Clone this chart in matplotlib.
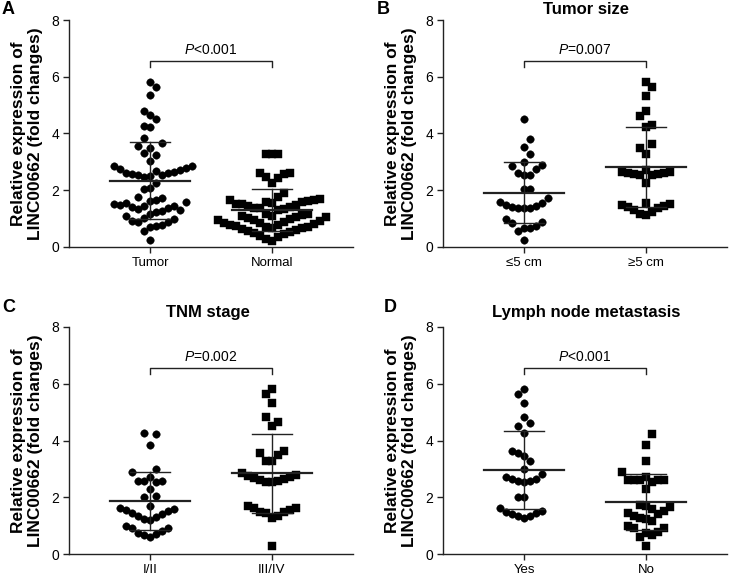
import numpy as np
import matplotlib
matplotlib.use("Agg")
import matplotlib.pyplot as plt

plt.rcParams.update({
    "font.family": ["Liberation Sans", "DejaVu Sans"],
    "mathtext.fontset": "custom",
    "mathtext.rm": "Liberation Sans",
    "mathtext.it": "Liberation Sans:italic",
    "axes.linewidth": 1.0,
})

# ---- data ----
cats_a = ["Tumor", "Normal"]
tumor_a = [5.83, 5.65, 5.36, 4.80, 4.65, 4.51, 4.26, 4.22, 3.83, 3.65, 3.56, 3.48,
           3.30, 3.24, 3.03, 2.87,
           2.48, 2.50, 2.52, 2.55, 2.57, 2.60, 2.62, 2.65, 2.68, 2.71, 2.74, 2.78, 2.84,
           2.24, 2.07, 2.03,
           1.24, 1.28, 1.31, 1.34, 1.37, 1.40, 1.43, 1.46, 1.49, 1.52, 1.55, 1.58,
           1.62, 1.67, 1.72, 1.77,
           1.16, 1.10, 1.02, 0.98, 0.93, 0.89, 0.89, 0.78, 0.74, 0.72, 0.58, 0.25]
normal_a = [3.28, 3.28, 3.28, 2.60, 2.60, 2.57, 2.46, 2.42, 2.27, 1.89, 1.75,
            1.30, 1.33, 1.36, 1.39, 1.42, 1.45, 1.47, 1.50, 1.52, 1.55, 1.57, 1.60,
            1.62, 1.64, 1.66, 1.68,
            0.80, 0.83, 0.86, 0.88, 0.91, 0.94, 0.96, 0.99, 1.01, 1.04, 1.06, 1.08,
            1.10, 1.12, 1.15, 1.18,
            0.22, 0.28, 0.34, 0.40, 0.45, 0.50, 0.54, 0.58, 0.61, 0.64, 0.66, 0.68,
            0.70, 0.72, 0.74, 0.76, 0.78]

cats_b = ["\u22645 cm", "\u22655 cm"]
small_b = [4.51, 3.81, 3.54, 3.28, 3.01, 2.89, 2.85, 2.74, 2.60, 2.54, 2.54, 2.03,
           2.03, 1.72, 1.60, 1.54, 1.48, 1.46, 1.40, 1.36, 1.36, 1.36, 0.98, 0.89,
           0.86, 0.74, 0.68, 0.68, 0.56, 0.25]
large_b = [5.83, 5.63, 5.33, 4.80, 4.63, 4.30, 4.22, 3.63, 3.48, 3.27,
           2.52, 2.54, 2.56, 2.58, 2.60, 2.62, 2.64, 2.66, 2.70, 2.24,
           1.12, 1.18, 1.24, 1.30, 1.36, 1.40, 1.44, 1.48, 1.52, 1.56]

cats_c = ["I/II", "III/IV"]
early_c = [4.25, 4.23, 3.84, 2.98, 2.90, 2.73, 2.58, 2.58, 2.58, 2.55, 2.28, 2.04,
           2.02, 1.69, 1.20, 1.25, 1.30, 1.35, 1.40, 1.45, 1.50, 1.54, 1.57, 1.61,
           0.99, 0.90, 0.90, 0.80, 0.73, 0.70, 0.67, 0.59]
late_c = [5.81, 5.64, 5.33, 4.82, 4.64, 4.52, 3.63, 3.55, 3.49, 3.28, 3.28,
          2.52, 2.55, 2.58, 2.61, 2.64, 2.67, 2.70, 2.74, 2.78, 2.84,
          1.69, 1.61, 1.61, 1.55, 1.49, 1.47, 1.43, 1.35, 1.28, 0.28]

cats_d = ["Yes", "No"]
yes_d = [5.81, 5.63, 5.33, 4.82, 4.63, 4.52, 4.28, 3.64, 3.55, 3.47, 3.28, 2.98,
         2.82, 2.70, 2.64, 2.64, 2.58, 2.58, 2.53, 2.02, 2.00, 1.61, 1.53, 1.49,
         1.43, 1.40, 1.35, 1.35, 1.28]
no_d = [4.23, 3.84, 3.28, 2.90, 2.73, 2.61, 2.61, 2.61, 2.61, 2.61, 2.55, 2.28,
        1.22, 1.28, 1.34, 1.40, 1.46, 1.52, 1.58, 1.64, 1.70, 1.73, 1.15,
        0.99, 0.90, 0.90, 0.79, 0.73, 0.67, 0.59, 0.28]

p_labels = [r"$\mathit{P}$<0.001", r"$\mathit{P}$=0.007",
            r"$\mathit{P}$=0.002", r"$\mathit{P}$<0.001"]
titles = ["", "Tumor size", "TNM stage", "Lymph node metastasis"]
letters = ["A", "B", "C", "D"]

W, H = 729, 577
# axes rectangles in pixels: left, top (width and height shared)
RECTS = [(69, 20), (443, 20), (69, 327), (443, 327)]
AX_W, AX_H = 284, 227


def swarm_x(ax, xc, vals, rx=6.0, ry=12.0):
    # beeswarm in display space with a box-shaped keep-out zone,
    # points placed in ascending order as close to the centre as possible
    vals = np.asarray(vals, float)
    disp = ax.transData.transform(np.column_stack([np.full(vals.size, xc), vals]))
    x0 = disp[0, 0]
    order = np.argsort(vals, kind="stable")
    placed = []
    off = np.zeros(vals.size)
    for k, i in enumerate(order):
        y = disp[i, 1]
        near = [qx for qx, qy in placed if abs(y - qy) < ry]
        cands = [0.0] + [q + rx for q in near] + [q - rx for q in near]
        side = 1 if k % 2 == 0 else -1
        cands.sort(key=lambda c: (round(abs(c), 2), -side * c))
        for c in cands:
            if all(abs(c - q) >= rx - 1e-6 for q in near):
                break
        placed.append((c, y))
        off[i] = c
    inv = ax.transData.inverted()
    return inv.transform(np.column_stack([x0 + off, disp[:, 1]]))[:, 0]


def draw_panel(ax, cats, g1, g2, ptext):
    ax.set_xlim(-0.664, 1.664)
    ax.set_ylim(0, 8)
    for s in ["top", "right"]:
        ax.spines[s].set_visible(False)
    for s in ["left", "bottom"]:
        ax.spines[s].set_color("#222222")
    ax.set_yticks([0, 2, 4, 6, 8])
    ax.set_xticks([0, 1])
    ax.set_xticklabels(cats)
    ax.tick_params(axis="both", length=4, width=1.0, color="#222222",
                   labelsize=9.5, pad=3)
    ax.tick_params(axis="y", labelsize=10)

    for xc, vals, mk in [(0, g1, "o"), (1, g2, "s")]:
        xs = swarm_x(ax, xc, vals)
        ax.plot(xs, vals, ls="none", marker=mk, ms=5.4, mfc="black",
                mec="black", mew=0.3, zorder=3)
        m = np.mean(vals)
        sd = np.std(vals, ddof=1)
        ax.plot([xc - 0.33, xc + 0.33], [m, m], color="#222222", lw=1.6, zorder=4)
        ax.plot([xc, xc], [m - sd, m + sd], color="#222222", lw=1.0, zorder=4)
        for yy in (m - sd, m + sd):
            ax.plot([xc - 0.165, xc + 0.165], [yy, yy], color="#222222",
                    lw=1.0, zorder=4)

    ax.plot([0, 0, 1, 1], [6.33, 6.55, 6.55, 6.33], color="#222222", lw=1.0)
    ax.text(0.5, 6.68, ptext, ha="center", va="bottom", fontsize=10)

    ax.set_ylabel("Relative expression of\nLINC00662 (fold changes)",
                  fontsize=12.5, fontweight="bold", linespacing=1.15)
    ax.yaxis.set_label_coords(-0.092, 0.5)


fig = plt.figure(figsize=(W / 100, H / 100), dpi=100)
groups = [(cats_a, tumor_a, normal_a), (cats_b, small_b, large_b),
          (cats_c, early_c, late_c), (cats_d, yes_d, no_d)]

for i, (cats, g1, g2) in enumerate(groups):
    lx, ty = RECTS[i]
    ax = fig.add_axes([lx / W, 1 - (ty + AX_H) / H, AX_W / W, AX_H / H])
    draw_panel(ax, cats, g1, g2, p_labels[i])

# panel letters and titles (pixel positions)
letter_pos = [(2, 9), (377, 9), (2, 307), (384, 307)]
for (px, py), s in zip(letter_pos, letters):
    fig.text(px / W, 1 - py / H, s, fontsize=13, fontweight="bold",
             ha="left", va="center")
title_pos = [(211, 10), (586, 10), (208, 312), (586, 313)]
for (px, py), s in zip(title_pos, titles):
    if s:
        fig.text(px / W, 1 - py / H, s, fontsize=12, fontweight="bold",
                 ha="center", va="center")

fig.savefig("out.png", dpi=100)
